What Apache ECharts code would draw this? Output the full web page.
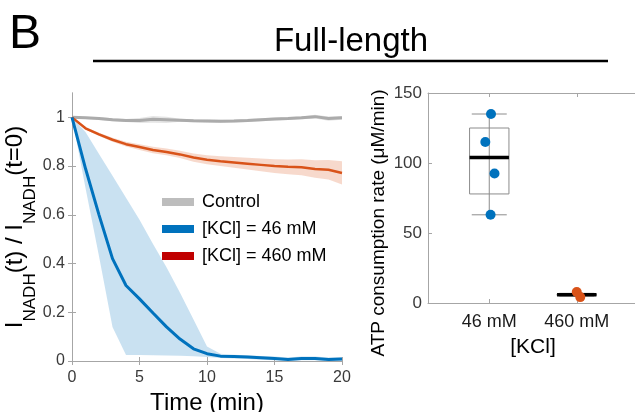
<!DOCTYPE html>
<html>
<head>
<meta charset="utf-8">
<script src="https://cdn.jsdelivr.net/npm/echarts@6/dist/echarts.min.js"></script>
<style>
  html, body { margin: 0; padding: 0; background: #ffffff; }
  #chart { width: 635px; height: 412px; }
</style>
</head>
<body>
<div id="chart"></div>
<script>
// ---- NADH decay time course (left panel) ----
const timeMin = [0, 1, 2, 3, 4, 5, 6, 7, 8, 9, 10, 11, 12, 13, 14, 15, 16, 17, 18, 19, 20];

const controlMean  = [1.0, 0.998, 0.995, 0.99, 0.987, 0.987, 0.992, 0.99, 0.988, 0.986, 0.985, 0.984, 0.985, 0.987, 0.99, 0.993, 0.995, 0.998, 1.003, 0.995, 0.998];
const controlUpper = [1.0, 1.003, 1.001, 0.996, 0.993, 0.997, 1.006, 1.003, 0.994, 0.992, 0.991, 0.99, 0.991, 0.993, 0.996, 0.999, 1.001, 1.004, 1.011, 1.004, 1.006];
const controlLower = [1.0, 0.993, 0.989, 0.984, 0.981, 0.977, 0.978, 0.977, 0.982, 0.98, 0.979, 0.978, 0.979, 0.981, 0.984, 0.987, 0.989, 0.992, 0.995, 0.986, 0.99];

const kcl46Mean  = [1.0, 0.79, 0.6, 0.42, 0.31, 0.255, 0.197, 0.14, 0.09, 0.05, 0.03, 0.02, 0.018, 0.016, 0.013, 0.01, 0.006, 0.01, 0.01, 0.006, 0.008];
const kcl46Upper = [1.0, 0.94, 0.85, 0.76, 0.67, 0.58, 0.48, 0.385, 0.28, 0.17, 0.06, 0.03, 0.026, 0.024, 0.021, 0.018, 0.014, 0.018, 0.018, 0.014, 0.016];
const kcl46Lower = [1.0, 0.71, 0.43, 0.14, 0.025, 0.025, 0.024, 0.023, 0.022, 0.02, 0.016, 0.012, 0.01, 0.008, 0.005, 0.003, 0.0, 0.003, 0.003, 0.0, 0.001];

const kcl460Mean  = [1.0, 0.955, 0.93, 0.908, 0.89, 0.878, 0.866, 0.858, 0.848, 0.835, 0.826, 0.82, 0.815, 0.81, 0.805, 0.8, 0.797, 0.795, 0.788, 0.785, 0.772];
const kcl460Upper = [1.0, 0.96, 0.937, 0.916, 0.9, 0.89, 0.879, 0.872, 0.863, 0.852, 0.844, 0.84, 0.837, 0.834, 0.831, 0.828, 0.827, 0.828, 0.824, 0.825, 0.82];
const kcl460Lower = [1.0, 0.95, 0.923, 0.9, 0.88, 0.866, 0.853, 0.844, 0.833, 0.818, 0.808, 0.8, 0.793, 0.786, 0.779, 0.772, 0.767, 0.762, 0.752, 0.745, 0.724];

const timeTicks  = [0, 5, 10, 15, 20];
const ratioTicks = [0, 0.2, 0.4, 0.6, 0.8, 1];

// ---- ATP consumption rate (right panel) ----
const kclCategories = ['46 mM', '460 mM'];
const kclPositions  = [1, 2];
const rate46  = [135, 115, 92.5, 63];
const jitter46  = [0.02, -0.045, 0.06, 0.015];
const rate460 = [7.9, 4.2];
const jitter460 = [0.0, 0.04];
const boxMin    = [63, 5.0];
const boxQ1     = [77.9, 5.4];
const boxMedian = [104, 5.95];
const boxQ3     = [125, 6.5];
const boxMax    = [135, 6.9];
const rateTicks = [0, 50, 100, 150];

const FONT = 'Liberation Sans, Arial, Helvetica, sans-serif';
const LABEL = '#3a3a3a';
const FRAME = '#a6a6a6';

const pairs = (ys) => timeMin.map((t, i) => [t, ys[i]]);

// shaded spread between lower and upper bounds, drawn as one polygon
function band(name, lower, upper, fill) {
  return {
    name: name, type: 'custom', xAxisIndex: 0, yAxisIndex: 0, silent: true, z: 1,
    data: timeMin.map((t, i) => [t, lower[i], upper[i]]),
    encode: { x: 0, y: [1, 2] },
    renderItem: function (params, api) {
      if (params.dataIndexInside !== 0) return null;
      const n = params.dataInsideLength;
      const top = [], bottom = [];
      for (let i = 0; i < n; i++) {
        top.push(api.coord([api.value(0, i), api.value(2, i)]));
        bottom.push(api.coord([api.value(0, i), api.value(1, i)]));
      }
      return {
        type: 'polygon',
        shape: { points: top.concat(bottom.reverse()) },
        style: { fill: fill, stroke: null }
      };
    }
  };
}

function meanLine(name, ys, color, width) {
  return {
    name: name, type: 'line', xAxisIndex: 0, yAxisIndex: 0,
    data: pairs(ys), showSymbol: false, symbol: 'none',
    lineStyle: { color: color, width: width }, itemStyle: { color: color }, z: 3
  };
}

// box, whiskers and median of each KCl group
const boxData = kclPositions.map((x, i) => [x, boxMin[i], boxQ1[i], boxMedian[i], boxQ3[i], boxMax[i]]);

function renderBox(params, api) {
  const x = api.value(0);
  const halfBox = 0.225, halfCap = 0.2;
  const pMin = api.coord([x, api.value(1)]);
  const pQ1 = api.coord([x, api.value(2)]);
  const pMed = api.coord([x, api.value(3)]);
  const pQ3 = api.coord([x, api.value(4)]);
  const pMax = api.coord([x, api.value(5)]);
  const left = api.coord([x - halfBox, 0])[0];
  const right = api.coord([x + halfBox, 0])[0];
  const capL = api.coord([x - halfCap, 0])[0];
  const capR = api.coord([x + halfCap, 0])[0];
  const gray = { stroke: '#8c8c8c', lineWidth: 1, fill: null };
  return {
    type: 'group',
    children: [
      { type: 'line', shape: { x1: pMin[0], y1: pMin[1], x2: pMax[0], y2: pMax[1] }, style: gray },
      { type: 'line', shape: { x1: capL, y1: pMin[1], x2: capR, y2: pMin[1] }, style: gray },
      { type: 'line', shape: { x1: capL, y1: pMax[1], x2: capR, y2: pMax[1] }, style: gray },
      { type: 'rect', shape: { x: left, y: pQ3[1], width: right - left, height: pQ1[1] - pQ3[1] }, style: gray },
      { type: 'line', shape: { x1: left, y1: pMed[1], x2: right, y2: pMed[1] },
        style: { stroke: '#000000', lineWidth: 3.5 } }
    ]
  };
}

const chart = echarts.init(document.getElementById('chart'), null, { renderer: 'canvas' });

const tickInside = { show: true, inside: true, length: 4, lineStyle: { color: FRAME, width: 1 } };
const frameLine = { show: true, lineStyle: { color: FRAME, width: 1 } };

chart.setOption({
  animation: false,
  backgroundColor: '#ffffff',
  textStyle: { fontFamily: FONT },
  graphic: [
    { type: 'text', x: 9, y: 35, style: { text: 'B', font: '48px ' + FONT, fill: '#000', verticalAlign: 'middle' } },
    { type: 'text', x: 351, y: 42, style: { text: 'Full-length', font: '33px ' + FONT, fill: '#000', align: 'center', verticalAlign: 'middle' } },
    { type: 'line', shape: { x1: 93, y1: 61, x2: 608, y2: 61 }, style: { stroke: '#000', lineWidth: 2.5 } }
  ],
  grid: [
    { left: 72, top: 93, width: 270, height: 268, outerBoundsMode: 'none' },
    { left: 428, top: 93, width: 210, height: 210, outerBoundsMode: 'none' }
  ],
  legend: {
    orient: 'vertical', left: 157, top: 188,
    itemWidth: 32, itemHeight: 8, itemGap: 9,
    selectedMode: false,
    textStyle: { fontFamily: FONT, fontSize: 18, color: '#000', padding: [0, 0, 0, 3] },
    data: [
      { name: 'Control', icon: 'rect', itemStyle: { color: '#bdbdbd' } },
      { name: '[KCl] = 46 mM', icon: 'rect', itemStyle: { color: '#0072bd' } },
      { name: '[KCl] = 460 mM', icon: 'rect', itemStyle: { color: '#c00000' } }
    ]
  },
  xAxis: [
    {
      gridIndex: 0, type: 'value', min: 0, max: 20,
      name: 'Time (min)', nameLocation: 'middle', nameGap: 23,
      nameTextStyle: { fontFamily: FONT, fontSize: 24, color: '#000' },
      axisLine: frameLine, axisTick: Object.assign({ customValues: timeTicks }, tickInside),
      axisLabel: { customValues: timeTicks, fontFamily: FONT, fontSize: 16, color: LABEL, margin: 9 },
      splitLine: { show: false }
    },
    {
      gridIndex: 0, type: 'value', min: 0, max: 20, position: 'top',
      axisLine: frameLine, axisTick: Object.assign({ customValues: timeTicks }, tickInside),
      axisLabel: { show: false }, splitLine: { show: false }
    },
    {
      gridIndex: 1, type: 'value', min: 0.3, max: 2.7,
      name: '[KCl]', nameLocation: 'middle', nameGap: 34,
      nameTextStyle: { fontFamily: FONT, fontSize: 21, color: '#000' },
      axisLine: frameLine, axisTick: Object.assign({ customValues: kclPositions }, tickInside),
      axisLabel: {
        customValues: kclPositions, fontFamily: FONT, fontSize: 18, color: '#1a1a1a', margin: 10,
        formatter: (v) => kclCategories[kclPositions.indexOf(v)]
      },
      splitLine: { show: false }
    },
    {
      gridIndex: 1, type: 'value', min: 0.3, max: 2.7, position: 'top',
      axisLine: frameLine, axisTick: Object.assign({ customValues: kclPositions }, tickInside),
      axisLabel: { show: false }, splitLine: { show: false }
    }
  ],
  yAxis: [
    {
      gridIndex: 0, type: 'value', min: 0, max: 1.1,
      name: '{m|I}{s|NADH}{m|(t) / I}{s|NADH}{m|(t=0)}',
      nameLocation: 'middle', nameGap: 25,
      nameTextStyle: {
        color: '#000',
        rich: {
          m: { fontFamily: FONT, fontSize: 24, color: '#000', lineHeight: 24, verticalAlign: 'top' },
          s: { fontFamily: FONT, fontSize: 17, color: '#000', verticalAlign: 'top', padding: [18, 0, 0, 0] }
        }
      },
      axisLine: frameLine, axisTick: Object.assign({ customValues: ratioTicks }, tickInside),
      axisLabel: { customValues: ratioTicks, fontFamily: FONT, fontSize: 16, color: LABEL, margin: 7 },
      splitLine: { show: false }
    },
    {
      gridIndex: 0, type: 'value', min: 0, max: 1.1, position: 'right',
      axisLine: frameLine, axisTick: Object.assign({ customValues: ratioTicks }, tickInside),
      axisLabel: { show: false }, splitLine: { show: false }
    },
    {
      gridIndex: 1, type: 'value', min: 0, max: 150,
      name: 'ATP consumption rate (\u03bcM/min)', nameLocation: 'middle', nameGap: 40,
      nameTextStyle: { fontFamily: FONT, fontSize: 19, color: '#000', padding: [0, 50, 0, 0] },
      axisLine: frameLine, axisTick: Object.assign({ customValues: rateTicks }, tickInside),
      axisLabel: { customValues: rateTicks, fontFamily: FONT, fontSize: 17, color: LABEL, margin: 6 },
      splitLine: { show: false }
    }
  ],
  series: [
    band('Control spread', controlLower, controlUpper, 'rgba(160,160,160,0.28)'),
    band('46 mM spread', kcl46Lower, kcl46Upper, 'rgba(0,114,189,0.21)'),
    band('460 mM spread', kcl460Lower, kcl460Upper, 'rgba(217,83,25,0.22)'),
    meanLine('Control', controlMean, '#ababab', 3),
    meanLine('[KCl] = 460 mM', kcl460Mean, '#d95319', 2.5),
    meanLine('[KCl] = 46 mM', kcl46Mean, '#0072bd', 3),
    {
      name: 'ATP box', type: 'custom', xAxisIndex: 2, yAxisIndex: 2,
      renderItem: renderBox, data: boxData, silent: true, z: 2,
      encode: { x: 0, y: [1, 2, 3, 4, 5] }
    },
    {
      name: '46 mM points', type: 'scatter', xAxisIndex: 2, yAxisIndex: 2,
      data: rate46.map((v, i) => [kclPositions[0] + jitter46[i], v]),
      symbolSize: 10, itemStyle: { color: '#0072bd', opacity: 1 }, z: 4
    },
    {
      name: '460 mM points', type: 'scatter', xAxisIndex: 2, yAxisIndex: 2,
      data: rate460.map((v, i) => [kclPositions[1] + jitter460[i], v]),
      symbolSize: 10, itemStyle: { color: '#d95319', opacity: 1 }, z: 4
    }
  ]
});
</script>
</body>
</html>
